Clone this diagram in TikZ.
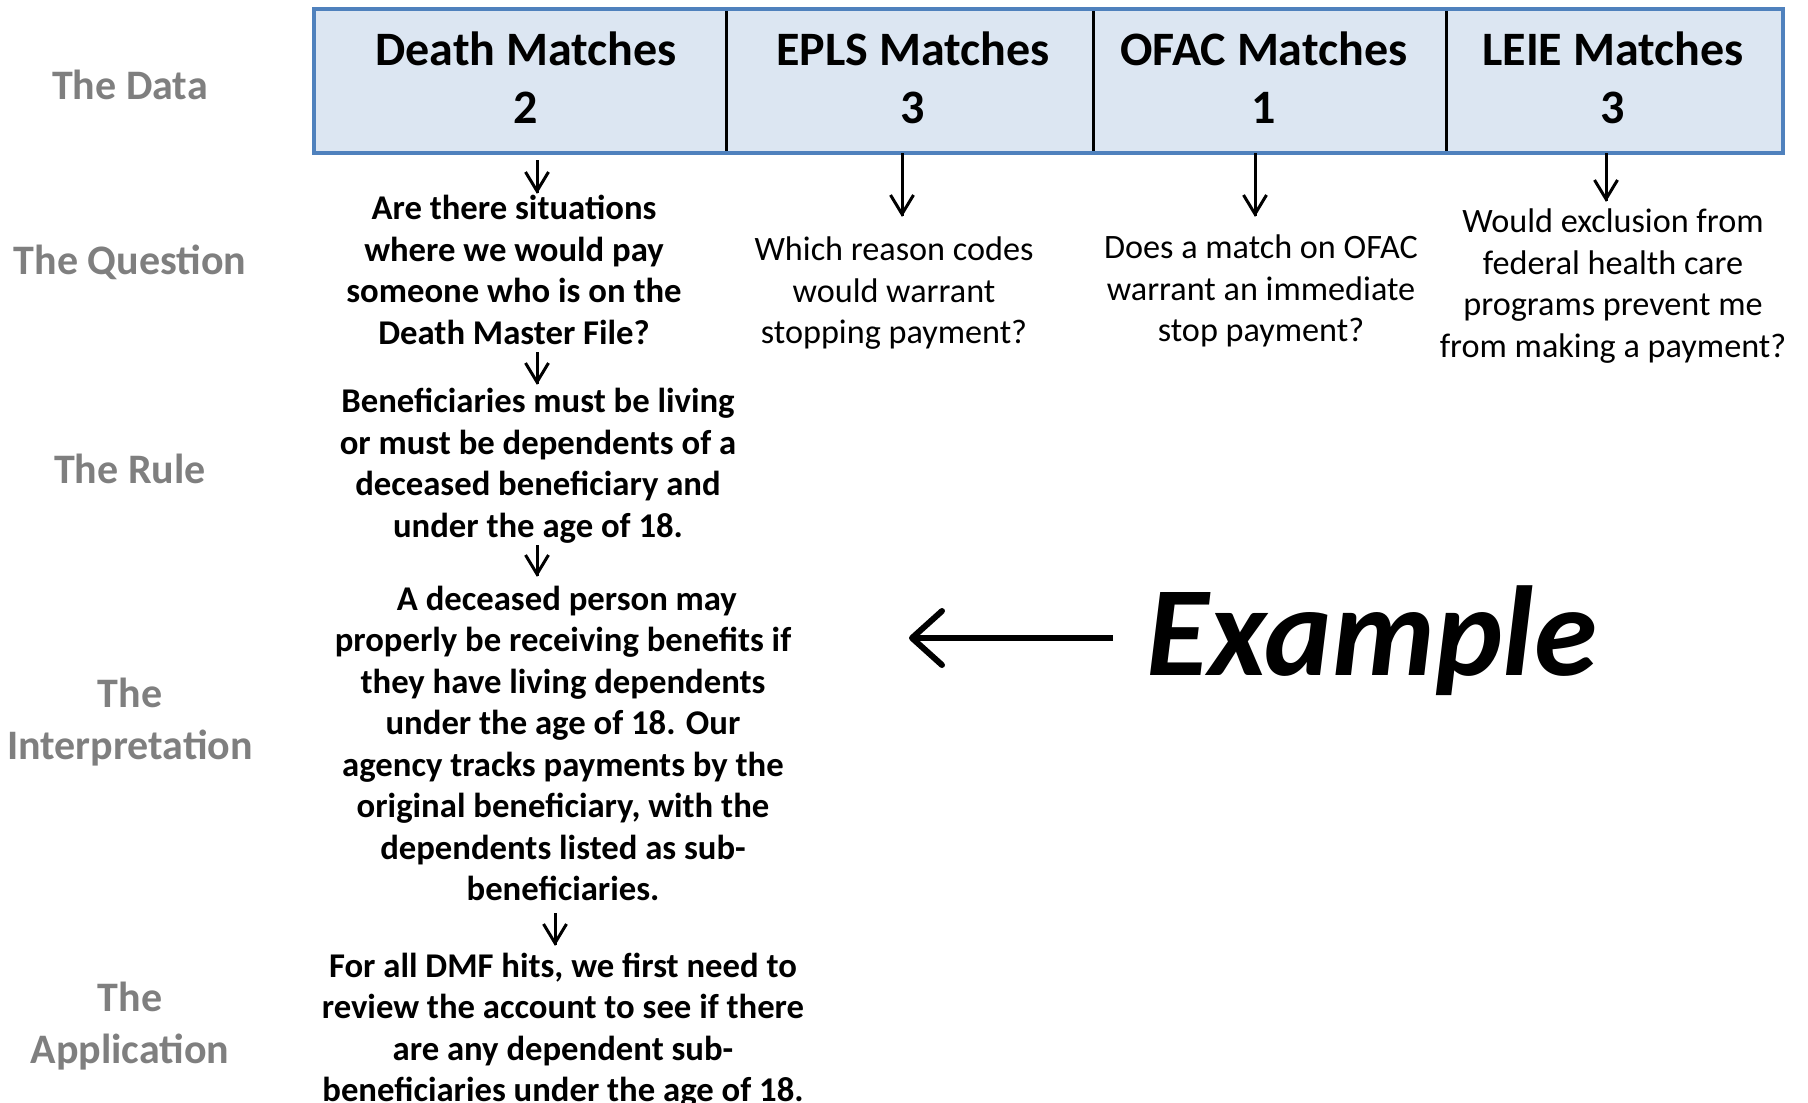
\documentclass[tikz,border=0pt]{standalone}
\usepackage{fontspec}
\setmainfont{Carlito}
\definecolor{boxfill}{HTML}{DCE6F2}
\definecolor{boxline}{HTML}{4F81BD}
\definecolor{lbl}{HTML}{7F7F7F}
\begin{document}
\begin{tikzpicture}[x=1pt,y=-1pt,
 lab/.style={font=\fontsize{42}{52}\selectfont\bfseries, text=lbl, align=center, inner sep=0},
 head/.style={font=\fontsize{48}{58}\selectfont\bfseries, align=center, inner sep=0},
 bt/.style={font=\fontsize{34.7}{41.5}\selectfont\bfseries, align=center, inner sep=0},
 rt/.style={font=\fontsize{34.2}{41.5}\selectfont, align=center, inner sep=0},
 flow/.style={line width=3pt},
 bigflow/.style={line width=6pt},
 vhead/.pic={\draw[line width=3pt, line join=miter] (-11.5,-19) -- (0,0) -- (11.5,-19);},
 lhead/.pic={\draw[line width=6pt, line join=round, line cap=round] (30,-27) -- (0,0) -- (30,27);},
]
\useasboundingbox (0,0) rectangle (1808,1103);
% header box
\node[draw=boxline, fill=boxfill, line width=4pt, minimum width=1469pt, minimum height=144pt, inner sep=0] (hdr) at (1048.5,81) {};
\foreach \x in {726,1093,1446} \draw[line width=3pt] (\x,11) -- (\x,151);
\node[head] (death) at (526,78) {Death Matches\\2};
\node[head] (epls) at (913,78) {EPLS Matches\\3};
\node[head] (ofac) at (1264,78) {OFAC Matches\\1};
\node[head] (leie) at (1613,78) {LEIE Matches\\3};
% row labels
\node[lab] (ldata) at (130,85) {The Data};
\node[lab] (lq) at (130,262) {The Question};
\node[lab] (lr) at (130,469) {The Rule};
\node[lab] (li) at (130,722.5) {The\\Interpretation};
\node[lab] (la) at (130,1026.5) {The\\Application};
% column 1
\node[bt] (q1) at (514,270) {Are there situations\\where we would pay\\someone who is on the\\Death Master File?};
\node[bt] (r1) at (538,465.5) {Beneficiaries must be living\\or must be dependents of a\\deceased beneficiary and\\under the age of 18.};
\node[bt] (i1) at (563,743.5) {\ A deceased person may\\properly be receiving benefits if\\they have living dependents\\under the age of 18. Our\\agency tracks payments by the\\original beneficiary, with the\\dependents listed as sub-\\beneficiaries.};
\node[bt] (a1) at (563,1030) {For all DMF hits, we first need to\\review the account to see if there\\are any dependent sub-\\beneficiaries under the age of 18.};
% other columns
\node[rt] (q2) at (894,293.3) {Which reason codes\\would warrant\\stopping payment?};
\node[rt] (q3) at (1261,291.3) {Does a match on OFAC\\warrant an immediate\\stop payment?};
\node[rt] (q4) at (1613,286.3) {Would exclusion from\\federal health care\\programs prevent me\\from making a payment?};
% arrows
\coordinate (d1a) at (537,160); \coordinate (d1b) at (537,191);
\coordinate (d2a) at (537,352); \coordinate (d2b) at (537,382);
\coordinate (d3a) at (537,545); \coordinate (d3b) at (537,574);
\coordinate (d4a) at (555,913); \coordinate (d4b) at (555,943);
\coordinate (e2a) at (902,153); \coordinate (e2b) at (902,214);
\coordinate (e3a) at (1255,153); \coordinate (e3b) at (1255,214);
\coordinate (e4a) at (1606,153); \coordinate (e4b) at (1606,199);
\foreach \a/\b in {d1a/d1b,d2a/d2b,d3a/d3b,d4a/d4b,e2a/e2b,e3a/e3b,e4a/e4b}{
  \draw[flow] (\a) -- ([yshift=-2pt]\b);
  \pic at (\b) {vhead};
}
% example
\node[font=\fontsize{128}{150}\selectfont\bfseries\itshape, anchor=base west, inner sep=0] (ex) at (1146,675) {Example};
\coordinate (exs) at (1113,638);
\coordinate (exe) at (912,638);
\draw[bigflow] (exs) -- ([xshift=3pt]exe);
\pic at (exe) {lhead};
\end{tikzpicture}
\end{document}
